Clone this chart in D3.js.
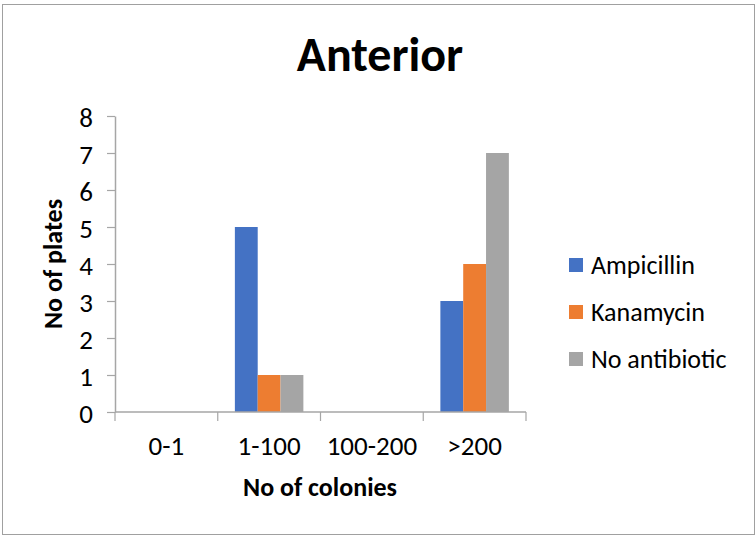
<!DOCTYPE html>
<html>
<head>
<meta charset="utf-8">
<script src="https://cdn.jsdelivr.net/npm/d3@7"></script>
<style>
  body { margin: 0; background: #fff; }
  svg { font-family: Carlito, Lato, "Open Sans", sans-serif; }
</style>
</head>
<body>
<svg id="chart" width="756" height="536"></svg>
<script>
// Data
const categories = ["0-1", "1-100", "100-200", ">200"];
const seriesNames = ["Ampicillin", "Kanamycin", "No antibiotic"];
const ampicillin = [0, 5, 0, 3];
const kanamycin = [0, 1, 0, 4];
const noAntibiotic = [0, 1, 0, 7];
const yTicks = [0, 1, 2, 3, 4, 5, 6, 7, 8];

const seriesValues = [ampicillin, kanamycin, noAntibiotic];
const colors = ["#4472C4", "#ED7D31", "#A5A5A5"];

const svg = d3.select("#chart");
const margin = { left: 115, right: 230, top: 116, bottom: 124 };
const width = 756, height = 536;

// Outer border
svg.append("rect")
  .attr("x", 2.5).attr("y", 4.5)
  .attr("width", 752).attr("height", 530)
  .attr("fill", "none")
  .attr("stroke", "#a0a0a0")
  .attr("stroke-width", 1);

const x0 = d3.scaleBand()
  .domain(categories)
  .range([margin.left, width - margin.right])
  .padding(0);

const x1 = d3.scaleBand()
  .domain(seriesNames)
  .range([0, x0.bandwidth()])
  .paddingInner(0)
  .paddingOuter(0.75);

const y = d3.scaleLinear()
  .domain([0, 8])
  .range([height - margin.bottom, margin.top]);

// Title
svg.append("text")
  .attr("x", 380).attr("y", 71)
  .attr("text-anchor", "middle")
  .attr("font-size", 48)
  .attr("font-weight", "bold")
  .text("Anterior");

// Bars
const rows = categories.map((c, i) => ({
  cat: c,
  vals: seriesNames.map((s, j) => ({ name: s, value: seriesValues[j][i], color: colors[j] }))
}));

svg.append("g")
  .selectAll("g")
  .data(rows)
  .join("g")
  .attr("transform", d => `translate(${x0(d.cat)},0)`)
  .selectAll("rect")
  .data(d => d.vals)
  .join("rect")
  .attr("x", d => x1(d.name))
  .attr("width", x1.bandwidth())
  .attr("y", d => y(d.value))
  .attr("height", d => y(0) - y(d.value))
  .attr("fill", d => d.color);

// Y axis
const yAxis = svg.append("g")
  .attr("transform", `translate(${margin.left},0)`)
  .call(d3.axisLeft(y).tickValues(yTicks).tickSize(8).tickPadding(14).tickSizeOuter(0));
yAxis.select(".domain").attr("stroke", "#a6a6a6").attr("stroke-width", 1.5);
yAxis.selectAll(".tick line").attr("stroke", "#a6a6a6").attr("stroke-width", 1.2);
yAxis.selectAll(".tick text")
  .attr("font-size", 27)
  .attr("font-family", "Carlito, Lato, sans-serif")
  .attr("fill", "#000")
  .attr("dy", "0.38em");

// X axis
const xAxisY = y(0);
const xg = svg.append("g");
xg.append("line")
  .attr("x1", margin.left).attr("x2", width - margin.right)
  .attr("y1", xAxisY).attr("y2", xAxisY)
  .attr("stroke", "#a6a6a6").attr("stroke-width", 1.5);
const boundaries = categories.map(c => x0(c)).concat([x0(categories[categories.length - 1]) + x0.bandwidth()]);
xg.selectAll(".xtick")
  .data(boundaries)
  .join("line")
  .attr("x1", d => d).attr("x2", d => d)
  .attr("y1", xAxisY).attr("y2", xAxisY + 9)
  .attr("stroke", "#a6a6a6").attr("stroke-width", 1.2);
xg.selectAll(".xlabel")
  .data(categories)
  .join("text")
  .attr("x", d => x0(d) + x0.bandwidth() / 2)
  .attr("y", 455)
  .attr("text-anchor", "middle")
  .attr("font-size", 27)
  .text(d => d);

// Axis titles
svg.append("text")
  .attr("x", 320).attr("y", 496)
  .attr("text-anchor", "middle")
  .attr("font-size", 26)
  .attr("font-weight", "bold")
  .text("No of colonies");

svg.append("text")
  .attr("transform", "translate(62,264) rotate(-90)")
  .attr("text-anchor", "middle")
  .attr("font-size", 26)
  .attr("font-weight", "bold")
  .text("No of plates");

// Legend
const legend = svg.append("g")
  .selectAll("g")
  .data(seriesNames)
  .join("g")
  .attr("transform", (d, i) => `translate(569,${265 + i * 47})`);
legend.append("rect")
  .attr("x", 0).attr("y", -7)
  .attr("width", 14).attr("height", 14)
  .attr("fill", (d, i) => colors[i]);
legend.append("text")
  .attr("x", 22).attr("y", 0)
  .attr("dy", "0.36em")
  .attr("font-size", 26)
  .text(d => d);
</script>
</body>
</html>
